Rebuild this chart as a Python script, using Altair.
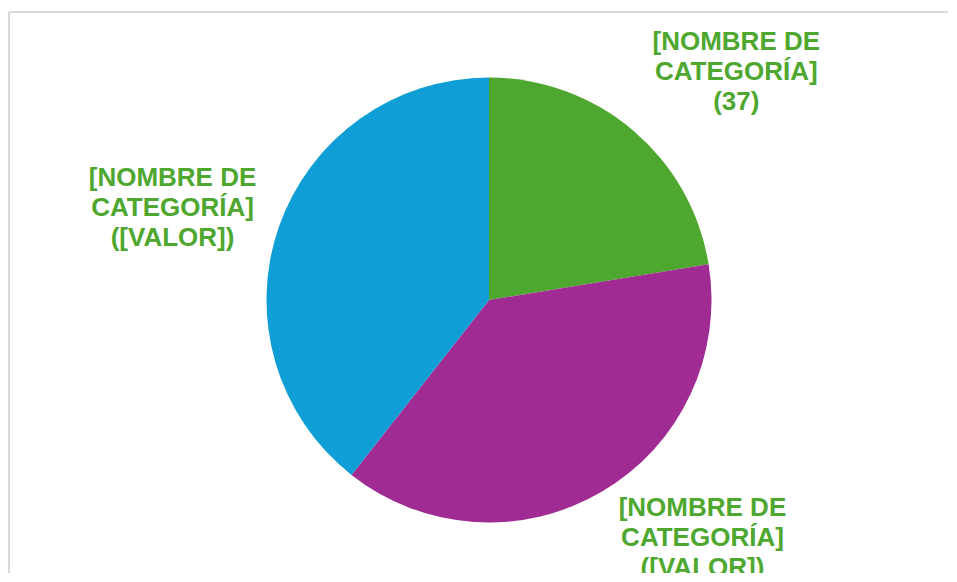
import altair as alt
import pandas as pd

# Data
keys = ["c1", "c2", "c3"]
names = ["[NOMBRE DE CATEGORÍA]", "[NOMBRE DE CATEGORÍA]", "[NOMBRE DE CATEGORÍA]"]
value_labels = ["(37)", "([VALOR])", "([VALOR])"]
values = [37, 63, 65]
colors = ["#4EA72E", "#A02B93", "#0F9ED5"]

df = pd.DataFrame({
    "idx": list(range(len(keys))),
    "key": keys,
    "value": values,
    "label": [n.replace(" CATEGORÍA", "\nCATEGORÍA") + "\n" + v for n, v in zip(names, value_labels)],
})

total = sum(values)
theta_scale = alt.Scale(domain=[0, total])

base = alt.Chart(df)

arc = base.mark_arc(outerRadius=222.5, strokeWidth=0).encode(
    theta=alt.Theta("value:Q", stack=True, scale=theta_scale),
    color=alt.Color("key:N", scale=alt.Scale(domain=keys, range=colors), legend=None),
    order=alt.Order("idx:Q"),
)

label_base = base.transform_window(
    cum="sum(value)", sort=[{"field": "idx"}], frame=[None, 0]
).transform_calculate(mid="datum.cum - datum.value / 2")

offsets = [(53, -29), (61, -50), (-33, -24)]
text_layers = []
for i, (dx, dy) in enumerate(offsets):
    t = label_base.transform_filter(f"datum.idx == {i}").mark_text(
        radius=300, dx=dx, dy=dy, align="center", baseline="middle",
        font="Liberation Sans", fontSize=26, fontWeight="bold",
        lineBreak="\n", lineHeight=30, color="#4EA72E",
    ).encode(
        theta=alt.Theta("mid:Q", scale=theta_scale),
        text="label:N",
    )
    text_layers.append(t)

frame = pd.DataFrame({"a": [0]})
top_line = alt.Chart(frame).mark_rule(color="#d9d9d9", strokeWidth=2).encode(
    x=alt.value(-21), x2=alt.value(918), y=alt.value(-15)
)
left_line = alt.Chart(frame).mark_rule(color="#d9d9d9", strokeWidth=2).encode(
    x=alt.value(-21), y=alt.value(-15), y2=alt.value(546)
)

chart = alt.layer(top_line, left_line, arc, *text_layers).properties(
    width=918, height=546,
    autosize=alt.AutoSizeParams(type="none"),
    padding={"left": 22, "top": 19, "right": 0, "bottom": 0},
).configure_view(strokeWidth=0)

chart.save("out.html", embed_options={"renderer": "svg", "actions": False})
